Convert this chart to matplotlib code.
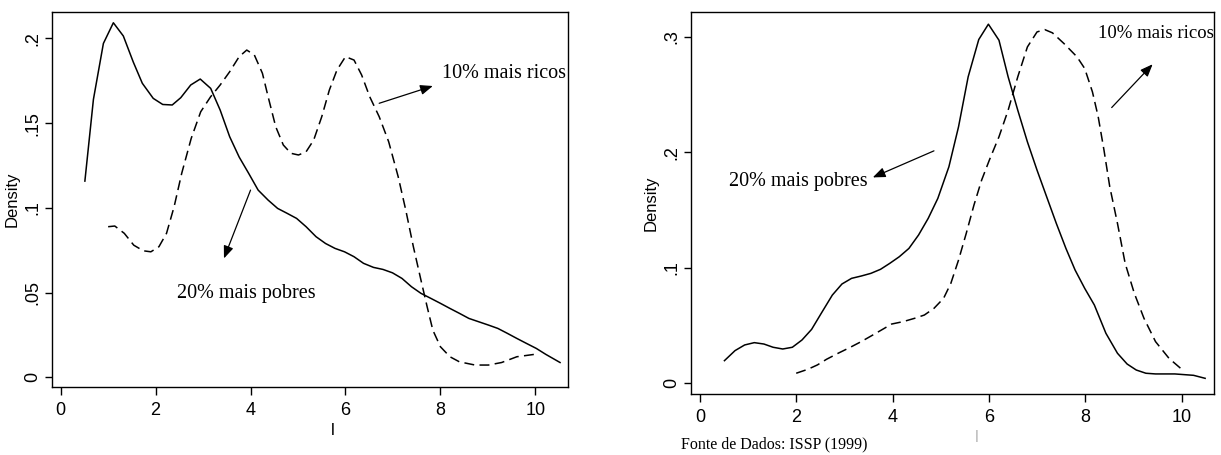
import matplotlib
matplotlib.use('Agg')
import matplotlib.pyplot as plt

# left panel: kernel densities (solid = 20% mais pobres, dashed = 10% mais ricos)
left_poor_x = [0.51, 0.69, 0.90, 1.11, 1.32, 1.53, 1.72, 1.95, 2.15, 2.35, 2.53, 2.74, 2.94,
               3.16, 3.36, 3.56, 3.76, 3.96, 4.16, 4.37, 4.57, 4.77, 4.97, 5.17, 5.38, 5.58,
               5.78, 5.98, 6.18, 6.38, 6.59, 6.79, 6.99, 7.19, 7.39, 7.59, 7.80, 8.00, 8.20,
               8.40, 8.60, 8.81, 9.01, 9.21, 9.41, 9.61, 9.81, 10.02, 10.22, 10.52]
left_poor_y = [0.1158, 0.164, 0.197, 0.2092, 0.2014, 0.186, 0.1735, 0.1646, 0.161, 0.1607,
               0.165, 0.1725, 0.176, 0.1705, 0.1577, 0.142, 0.130, 0.1204, 0.1105, 0.1046,
               0.0997, 0.0968, 0.0938, 0.0889, 0.083, 0.079, 0.0761, 0.0741, 0.0712, 0.0673,
               0.0649, 0.0637, 0.0617, 0.0584, 0.0535, 0.0496, 0.0466, 0.0437, 0.0407, 0.0378,
               0.0348, 0.0328, 0.0309, 0.0289, 0.026, 0.023, 0.0201, 0.0171, 0.0136, 0.0088]
left_rich_x = [1.00, 1.14, 1.34, 1.54, 1.74, 1.90, 2.07, 2.23, 2.39, 2.55, 2.75, 2.95, 3.16,
               3.36, 3.56, 3.76, 3.92, 4.08, 4.25, 4.37, 4.53, 4.69, 4.85, 5.01, 5.17, 5.33,
               5.50, 5.66, 5.82, 6.00, 6.18, 6.34, 6.51, 6.71, 6.91, 7.11, 7.27, 7.43, 7.59,
               7.72, 7.84, 8.00, 8.20, 8.40, 8.73, 9.01, 9.29, 9.61, 9.98]
left_rich_y = [0.0889, 0.0893, 0.085, 0.078, 0.0747, 0.0741, 0.0771, 0.085, 0.1007, 0.1204,
               0.141, 0.1567, 0.1656, 0.1725, 0.1803, 0.1892, 0.1931, 0.1902, 0.1794, 0.1656,
               0.1479, 0.1371, 0.1322, 0.1312, 0.1331, 0.140, 0.1538, 0.1695, 0.1813, 0.1892,
               0.1872, 0.1784, 0.1656, 0.1538, 0.139, 0.1184, 0.0987, 0.0771, 0.0574, 0.0417,
               0.0279, 0.0181, 0.0122, 0.0092, 0.0073, 0.0073, 0.0088, 0.0122, 0.0136]

# right panel
right_poor_x = [0.51, 0.73, 0.93, 1.13, 1.33, 1.52, 1.72, 1.92, 2.12, 2.32, 2.52, 2.75, 2.95,
                3.15, 3.35, 3.55, 3.75, 3.94, 4.14, 4.34, 4.54, 4.74, 4.94, 5.17, 5.37, 5.57,
                5.79, 5.99, 6.21, 6.40, 6.60, 6.80, 7.00, 7.20, 7.40, 7.60, 7.79, 7.99, 8.19,
                8.43, 8.67, 8.87, 9.06, 9.26, 9.46, 9.86, 10.25, 10.49]
right_poor_y = [0.0196, 0.0283, 0.0332, 0.0352, 0.034, 0.0312, 0.0297, 0.0312, 0.0375, 0.0467,
                0.0606, 0.0764, 0.086, 0.0909, 0.0929, 0.0952, 0.0987, 0.1038, 0.1096, 0.1168,
                0.1284, 0.1428, 0.1601, 0.1875, 0.2221, 0.2654, 0.2977, 0.311, 0.2971, 0.2654,
                0.2365, 0.2091, 0.1846, 0.1615, 0.1385, 0.1168, 0.0981, 0.0822, 0.0678, 0.0433,
                0.026, 0.0167, 0.0115, 0.0087, 0.0081, 0.0081, 0.0069, 0.0043]
right_rich_x = [2.00, 2.24, 2.44, 2.63, 2.87, 3.11, 3.35, 3.59, 3.83, 3.98, 4.22, 4.46, 4.66,
                4.86, 5.06, 5.21, 5.37, 5.53, 5.69, 5.85, 6.01, 6.21, 6.40, 6.60, 6.80, 7.00,
                7.16, 7.32, 7.56, 7.83, 7.99, 8.15, 8.27, 8.39, 8.51, 8.67, 8.83, 9.02, 9.22,
                9.46, 9.74, 9.98]
right_rich_y = [0.0087, 0.0121, 0.0159, 0.0208, 0.026, 0.0309, 0.0361, 0.0418, 0.0476, 0.0513,
                0.0534, 0.0563, 0.0591, 0.0649, 0.0736, 0.0865, 0.1067, 0.1298, 0.1543, 0.176,
                0.1933, 0.2135, 0.2365, 0.2654, 0.2913, 0.3043, 0.3063, 0.3035, 0.2942, 0.2827,
                0.2726, 0.2524, 0.2308, 0.2019, 0.1702, 0.1385, 0.1038, 0.0779, 0.0563, 0.0361,
                0.0216, 0.013]

x_ticks = [0, 2, 4, 6, 8, 10]
left_yticks = [0, 0.05, 0.1, 0.15, 0.2]
left_yticklabels = ['0', '.05', '.1', '.15', '.2']
right_yticks = [0, 0.1, 0.2, 0.3]
right_yticklabels = ['0', '.1', '.2', '.3']

label_rich = '10% mais ricos'
label_poor = '20% mais pobres'
source_note = 'Fonte de Dados: ISSP (1999)'

tick_font = ['Liberation Sans Narrow', 'Liberation Sans', 'DejaVu Sans']
serif_font = ['Liberation Serif', 'DejaVu Serif']

fig = plt.figure(figsize=(12.21, 4.55), dpi=100)
ax_l = fig.add_axes((0.0423, 0.150, 0.4226, 0.8242))
ax_r = fig.add_axes((0.5657, 0.134, 0.4288, 0.840))


def style_axes(ax, yticks, yticklabels, ylim):
    ax.set_xlim(-0.19, 10.68)
    ax.set_ylim(*ylim)
    ax.set_xticks(x_ticks)
    ax.set_xticklabels([str(t) for t in x_ticks], family=tick_font, fontsize=13)
    ax.set_yticks(yticks)
    ax.set_yticklabels(yticklabels, family=tick_font, fontsize=13,
                       rotation=90, va='center')
    ax.tick_params(axis='x', direction='out', length=5.5, width=1, pad=5.5)
    ax.tick_params(axis='y', direction='out', length=4.8, width=1, pad=2.4)
    for sp in ax.spines.values():
        sp.set_linewidth(1.0)
        sp.set_color('black')
    ax.set_ylabel('Density', family=['Liberation Sans', 'DejaVu Sans'],
                  fontsize=12, labelpad=3.6)


def arrow(ax, x0, y0, x1, y1):
    ax.annotate('', xy=(x1, y1), xytext=(x0, y0),
                arrowprops=dict(arrowstyle='-|>,head_length=0.75,head_width=0.3',
                                mutation_scale=10, lw=0.9, color='black',
                                shrinkA=0, shrinkB=0))


# left panel
ax_l.plot(left_poor_x, left_poor_y, color='black', lw=1.1)
ax_l.plot(left_rich_x, left_rich_y, color='black', lw=1.1, dashes=(6.5, 3.5))
style_axes(ax_l, left_yticks, left_yticklabels, (-0.0055, 0.2157))
ax_l.text(8.04, 0.179, label_rich, family=serif_font, fontsize=14.5, va='center')
arrow(ax_l, 6.71, 0.1617, 7.84, 0.1719)
ax_l.text(2.45, 0.0496, label_poor, family=serif_font, fontsize=14.5, va='center')
arrow(ax_l, 4.0, 0.1105, 3.44, 0.0702)
ax_l.set_xlabel('l', fontsize=12, family=['Liberation Sans', 'DejaVu Sans'])
ax_l.xaxis.set_label_coords(0.545, -0.097)

# right panel
ax_r.plot(right_poor_x, right_poor_y, color='black', lw=1.1)
ax_r.plot(right_rich_x, right_rich_y, color='black', lw=1.1, dashes=(6.5, 3.5))
style_axes(ax_r, right_yticks, right_yticklabels, (-0.0093, 0.3217))
ax_r.text(8.26, 0.303, label_rich, family=serif_font, fontsize=13.5, va='center')
arrow(ax_r, 8.55, 0.2388, 9.40, 0.2763)
ax_r.text(0.61, 0.1745, label_poor, family=serif_font, fontsize=14.5, va='center')
arrow(ax_r, 4.86, 0.2013, 3.59, 0.1783)
ax_r.set_xlabel('l', fontsize=12, color='#bbbbbb',
                family=['Liberation Sans', 'DejaVu Sans'])
ax_r.xaxis.set_label_coords(0.546, -0.094)

fig.text(0.5577, 0.0242, source_note, family=serif_font, fontsize=11.5,
         va='center', ha='left')

fig.savefig('out.png', dpi=100)
